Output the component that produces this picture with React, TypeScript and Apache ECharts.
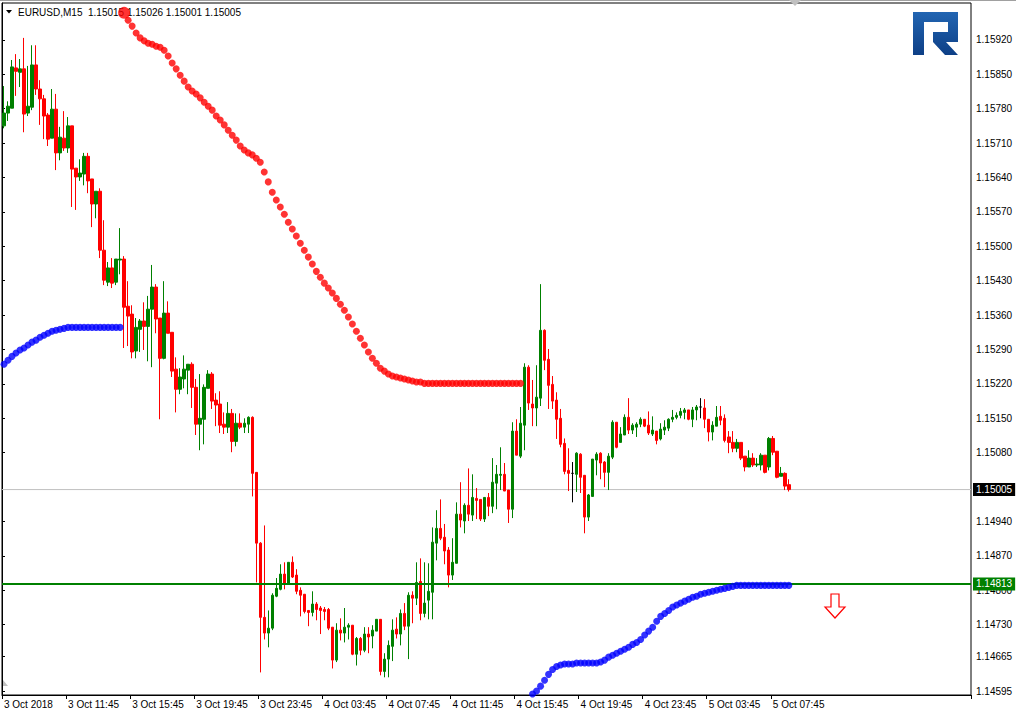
import React, { useEffect, useRef } from "react";
import * as echarts from "echarts";

// ---------- data ----------
const SYMBOL = "EURUSD,M15";
const SLOT_COUNT = 242; // bar slots across the plot (incl. empty chart shift)
const X_TICK_STEP = 16; // bars between time labels (4 hours of M15)
const X_TICK_LABELS = [
  "3 Oct 2018", "3 Oct 11:45", "3 Oct 15:45", "3 Oct 19:45", "3 Oct 23:45",
  "4 Oct 03:45", "4 Oct 07:45", "4 Oct 11:45", "4 Oct 15:45", "4 Oct 19:45",
  "4 Oct 23:45", "5 Oct 03:45", "5 Oct 07:45",
];
const Y_TICKS = [
  1.1592, 1.1585, 1.1578, 1.1571, 1.1564, 1.1557, 1.155, 1.1543, 1.1536, 1.1529,
  1.1522, 1.1515, 1.1508, 1.1494, 1.1487, 1.148, 1.1473, 1.14665, 1.14595,
];
const Y_MIN = 1.14587;
const Y_MAX = 1.15995;
const BID = 1.15005;
const LEVEL = 1.14813;

const OPEN = [
  1.15745, 1.15771, 1.15781, 1.15863, 1.15854, 1.15861, 1.15771, 1.15783, 1.15869, 1.1582,
  1.158, 1.15767, 1.1572, 1.15779, 1.1569, 1.1572, 1.157, 1.15745, 1.15659, 1.15641,
  1.15647, 1.15683, 1.15637, 1.15586, 1.15612, 1.15492, 1.15427, 1.15456, 1.15427, 1.15472,
  1.15474, 1.15378, 1.15362, 1.15287, 1.15331, 1.15348, 1.15337, 1.15372, 1.15417, 1.15354,
  1.15272, 1.15364, 1.15325, 1.1525, 1.15209, 1.1523, 1.15248, 1.1526, 1.15213, 1.15138,
  1.15148, 1.15211, 1.1524, 1.15187, 1.15179, 1.15138, 1.15132, 1.1516, 1.15103, 1.1514,
  1.15132, 1.15138, 1.15152, 1.1504, 1.14896, 1.14745, 1.14713, 1.14723, 1.14788, 1.14802,
  1.14833, 1.14814, 1.14857, 1.14831, 1.148, 1.14792, 1.14759, 1.14755, 1.14772, 1.14764,
  1.14761, 1.14761, 1.14725, 1.14658, 1.14719, 1.14713, 1.14725, 1.14729, 1.1467, 1.14702,
  1.14678, 1.14711, 1.14707, 1.14717, 1.14741, 1.14635, 1.1466, 1.14686, 1.14721, 1.14711,
  1.14753, 1.14727, 1.1479, 1.14784, 1.14818, 1.14753, 1.1478, 1.14796, 1.14896, 1.14926,
  1.14908, 1.14882, 1.14831, 1.14855, 1.14955, 1.14941, 1.14973, 1.14953, 1.14987, 1.14985,
  1.14945, 1.14989, 1.14971, 1.15018, 1.15034, 1.15036, 1.15004, 1.14965, 1.15124, 1.15073,
  1.15136, 1.15254, 1.15179, 1.15171, 1.15191, 1.15329, 1.1527, 1.15219, 1.15187, 1.1515,
  1.15099, 1.15044, 1.15038, 1.15036, 1.15077, 1.15034, 1.14949, 1.14991, 1.15065, 1.15079,
  1.15061, 1.1504, 1.15071, 1.15142, 1.15101, 1.15116, 1.15152, 1.15126, 1.15132, 1.15138,
  1.15148, 1.15136, 1.15118, 1.15124, 1.15108, 1.15126, 1.1513, 1.15148, 1.15152, 1.15156,
  1.15162, 1.15167, 1.15148, 1.15167, 1.15173, 1.15171, 1.15148, 1.15122, 1.15134, 1.15154,
  1.1515, 1.15112, 1.15101, 1.15089, 1.15101, 1.15073, 1.15051, 1.15069, 1.15055, 1.15055,
  1.15075, 1.15051, 1.15109, 1.15083, 1.15032, 1.15038, 1.15015,
];
const HIGH = [
  1.15826, 1.15795, 1.15879, 1.15891, 1.15881, 1.15924, 1.15867, 1.15909, 1.15909, 1.15838,
  1.15808, 1.15771, 1.1582, 1.1581, 1.15743, 1.15775, 1.15763, 1.15745, 1.15659, 1.15677,
  1.1569, 1.1569, 1.15637, 1.15612, 1.15618, 1.15553, 1.15468, 1.15476, 1.15474, 1.15537,
  1.1548, 1.15429, 1.1538, 1.15354, 1.15352, 1.15386, 1.15399, 1.15462, 1.15423, 1.15354,
  1.15429, 1.15388, 1.15325, 1.15274, 1.15252, 1.15278, 1.1526, 1.15264, 1.1523, 1.1524,
  1.15219, 1.15248, 1.15244, 1.15201, 1.15205, 1.15162, 1.15183, 1.15169, 1.1516, 1.1516,
  1.1515, 1.15154, 1.15154, 1.1504, 1.14898, 1.14932, 1.14759, 1.14794, 1.14825, 1.14853,
  1.14857, 1.14857, 1.14869, 1.14843, 1.14806, 1.14792, 1.14759, 1.14798, 1.14776, 1.14768,
  1.14766, 1.14764, 1.14725, 1.14733, 1.14743, 1.14764, 1.14733, 1.14729, 1.14705, 1.14705,
  1.14725, 1.14725, 1.14729, 1.14741, 1.14741, 1.14672, 1.14698, 1.14741, 1.14745, 1.14761,
  1.14774, 1.14796, 1.14798, 1.14857, 1.14865, 1.14857, 1.14855, 1.14928, 1.14963, 1.14985,
  1.14935, 1.14888, 1.14906, 1.14979, 1.1502, 1.14977, 1.15048, 1.15036, 1.15008, 1.14985,
  1.14989, 1.14998, 1.15069, 1.15055, 1.15091, 1.15059, 1.15004, 1.15142, 1.15148, 1.15173,
  1.15262, 1.15258, 1.15228, 1.15258, 1.15423, 1.15331, 1.15291, 1.15236, 1.15203, 1.15169,
  1.15109, 1.15089, 1.15061, 1.15081, 1.15079, 1.15034, 1.14996, 1.15067, 1.15081, 1.15081,
  1.15063, 1.15079, 1.15146, 1.15142, 1.15132, 1.15158, 1.15191, 1.1514, 1.15142, 1.15152,
  1.15148, 1.15164, 1.15154, 1.15124, 1.1514, 1.15146, 1.1515, 1.15167, 1.15162, 1.15171,
  1.15171, 1.15167, 1.15173, 1.15177, 1.15191, 1.15189, 1.15148, 1.15144, 1.15175, 1.15175,
  1.15158, 1.15124, 1.15124, 1.15108, 1.15101, 1.15073, 1.15085, 1.15079, 1.15069, 1.15079,
  1.15075, 1.15112, 1.15114, 1.15083, 1.15051, 1.1504, 1.15026,
];
const LOW = [
  1.1574, 1.15755, 1.15781, 1.15806, 1.15824, 1.15732, 1.15765, 1.15777, 1.15808, 1.15747,
  1.15718, 1.15704, 1.1572, 1.15655, 1.15675, 1.15694, 1.1569, 1.1558, 1.15574, 1.15633,
  1.15624, 1.15608, 1.15539, 1.15557, 1.15476, 1.15421, 1.15419, 1.15415, 1.15421, 1.15443,
  1.15293, 1.15297, 1.15272, 1.15272, 1.15285, 1.15289, 1.15266, 1.15254, 1.15323, 1.15148,
  1.1527, 1.15323, 1.15234, 1.15162, 1.15199, 1.15211, 1.15199, 1.15171, 1.15116, 1.15085,
  1.15097, 1.15211, 1.15169, 1.15134, 1.1512, 1.15118, 1.1512, 1.15081, 1.15093, 1.15128,
  1.1512, 1.1512, 1.14991, 1.14816, 1.14633, 1.147, 1.14684, 1.14719, 1.14786, 1.148,
  1.14802, 1.14814, 1.14825, 1.14792, 1.14747, 1.14753, 1.14727, 1.14747, 1.14739, 1.14711,
  1.14739, 1.14719, 1.14641, 1.14654, 1.14698, 1.14694, 1.147, 1.14668, 1.14647, 1.14668,
  1.14674, 1.14672, 1.14682, 1.14717, 1.14627, 1.14623, 1.14623, 1.14656, 1.14702, 1.14688,
  1.14719, 1.1466, 1.14733, 1.1477, 1.14739, 1.14745, 1.14741, 1.14741, 1.14861, 1.14902,
  1.14853, 1.14806, 1.14821, 1.14855, 1.14928, 1.14916, 1.14941, 1.14941, 1.14945, 1.14941,
  1.14939, 1.14951, 1.14957, 1.14965, 1.15004, 1.15002, 1.14937, 1.14947, 1.15075, 1.15069,
  1.15085, 1.15167, 1.15134, 1.15134, 1.15175, 1.15248, 1.15169, 1.15169, 1.15108, 1.15091,
  1.15036, 1.15002, 1.14979, 1.15, 1.14998, 1.14916, 1.14941, 1.14991, 1.15034, 1.15026,
  1.1501, 1.15004, 1.15067, 1.15089, 1.15101, 1.15116, 1.15118, 1.15118, 1.15112, 1.15132,
  1.15132, 1.15116, 1.15114, 1.15097, 1.15105, 1.15116, 1.15124, 1.15142, 1.15148, 1.1515,
  1.15148, 1.15146, 1.15132, 1.15146, 1.1515, 1.1513, 1.15103, 1.15105, 1.15134, 1.15136,
  1.15101, 1.15079, 1.15081, 1.15081, 1.15065, 1.15042, 1.15051, 1.15051, 1.15051, 1.15044,
  1.15038, 1.15044, 1.15075, 1.15028, 1.15032, 1.15004, 1.15001,
];
const CLOSE = [
  1.15771, 1.15785, 1.15865, 1.15856, 1.15861, 1.15769, 1.15785, 1.15869, 1.1582, 1.158,
  1.15765, 1.15718, 1.15779, 1.1569, 1.15722, 1.157, 1.15745, 1.15657, 1.15641, 1.15649,
  1.15683, 1.15633, 1.15586, 1.15612, 1.15492, 1.15431, 1.15456, 1.15425, 1.15474, 1.15474,
  1.15376, 1.15358, 1.15285, 1.15335, 1.15348, 1.15337, 1.15372, 1.15417, 1.15352, 1.15272,
  1.15364, 1.15323, 1.15246, 1.15209, 1.15234, 1.1525, 1.1526, 1.15213, 1.15138, 1.1515,
  1.15213, 1.1524, 1.15185, 1.15177, 1.15136, 1.15132, 1.1516, 1.15103, 1.1514, 1.15132,
  1.1514, 1.15152, 1.15038, 1.14896, 1.14745, 1.14713, 1.14723, 1.1479, 1.14804, 1.14833,
  1.14814, 1.14857, 1.14827, 1.14798, 1.1479, 1.14757, 1.14755, 1.14772, 1.14761, 1.14759,
  1.14757, 1.14723, 1.14658, 1.14719, 1.14713, 1.14725, 1.14729, 1.1467, 1.14702, 1.14678,
  1.14711, 1.14705, 1.14719, 1.14741, 1.14635, 1.1466, 1.14688, 1.14719, 1.14711, 1.14753,
  1.14727, 1.1479, 1.14784, 1.14816, 1.14753, 1.14774, 1.14798, 1.14898, 1.14926, 1.14906,
  1.1488, 1.14831, 1.14857, 1.14955, 1.14943, 1.14973, 1.14955, 1.14989, 1.14983, 1.14945,
  1.14989, 1.14971, 1.1502, 1.15036, 1.15036, 1.15002, 1.14965, 1.15124, 1.15075, 1.1514,
  1.15254, 1.15181, 1.15171, 1.15193, 1.15329, 1.15268, 1.15217, 1.15185, 1.15148, 1.15097,
  1.15042, 1.15038, 1.15038, 1.15079, 1.1503, 1.14949, 1.14994, 1.15067, 1.15077, 1.15059,
  1.1504, 1.15073, 1.15142, 1.15091, 1.15118, 1.15152, 1.15126, 1.15136, 1.15138, 1.15148,
  1.15134, 1.1512, 1.15126, 1.15105, 1.15128, 1.15132, 1.15148, 1.15152, 1.15156, 1.15164,
  1.15167, 1.15148, 1.15167, 1.15173, 1.15173, 1.15148, 1.15122, 1.15136, 1.15152, 1.15146,
  1.15105, 1.15101, 1.15089, 1.15101, 1.15069, 1.15051, 1.15069, 1.15055, 1.15057, 1.15075,
  1.1504, 1.15109, 1.15081, 1.1503, 1.15038, 1.15012, 1.15005,
];

// trailing-stop dots (upper / red, lower / blue)
const RED_START = 30;
const RED_TRAIL = [
  1.15975, 1.1596, 1.15948, 1.15934, 1.15924, 1.15918, 1.15913, 1.15911, 1.15907, 1.15905,
  1.15899, 1.15887, 1.15873, 1.15861, 1.15848, 1.15836, 1.15824, 1.15816, 1.1581, 1.15802,
  1.15793, 1.15785, 1.15777, 1.15765, 1.15757, 1.15747, 1.15736, 1.15726, 1.15716, 1.15704,
  1.15696, 1.1569, 1.15686, 1.15679, 1.15671, 1.15651, 1.15631, 1.1561, 1.15594, 1.1558,
  1.15565, 1.15549, 1.15535, 1.15521, 1.15506, 1.15492, 1.15478, 1.15464, 1.15449, 1.15437,
  1.15425, 1.15415, 1.15405, 1.15394, 1.15382, 1.1537, 1.15356, 1.15342, 1.15327, 1.15313,
  1.15299, 1.15285, 1.15272, 1.15262, 1.15252, 1.15246, 1.1524, 1.15236, 1.15234, 1.15232,
  1.1523, 1.15228, 1.15226, 1.15224, 1.15224, 1.15221, 1.15221, 1.15221, 1.15221, 1.15221,
  1.15221, 1.15221, 1.15221, 1.15221, 1.15221, 1.15221, 1.15221, 1.15221, 1.15221, 1.15221,
  1.15221, 1.15221, 1.15221, 1.15221, 1.15221, 1.15221, 1.15221, 1.15221, 1.15221, 1.15221,
];
const BLUE_LEFT_START = 0;
const BLUE_LEFT = [
  1.1526, 1.15268, 1.15276, 1.15283, 1.15289, 1.15293, 1.15299, 1.15305, 1.15309, 1.15315,
  1.15319, 1.15323, 1.15327, 1.15329, 1.15331, 1.15333, 1.15335, 1.15335, 1.15335, 1.15335,
  1.15335, 1.15335, 1.15335, 1.15335, 1.15335, 1.15335, 1.15335, 1.15335, 1.15335, 1.15335,
];
const BLUE_RIGHT_START = 132;
const BLUE_RIGHT = [
  1.14589, 1.14595, 1.14605, 1.14617, 1.14629, 1.14639, 1.14645, 1.14648,
  1.1465, 1.1465, 1.1465, 1.14652, 1.14652, 1.14652, 1.14652, 1.14652, 1.14652, 1.14654,
  1.14658, 1.14664, 1.14668, 1.14672, 1.14676, 1.1468, 1.14684, 1.1469, 1.14694, 1.147,
  1.14709, 1.14717, 1.14725, 1.14737, 1.14747, 1.14753, 1.14759, 1.14766, 1.1477, 1.14774,
  1.14778, 1.14782, 1.14786, 1.14788, 1.14792, 1.14794, 1.14796, 1.14798, 1.148, 1.14802,
  1.14804, 1.14806, 1.14808, 1.1481, 1.1481, 1.1481, 1.1481, 1.1481, 1.1481, 1.1481,
  1.1481, 1.1481, 1.1481, 1.1481, 1.1481, 1.1481, 1.1481,
];

// ---------- styling ----------
const FONT = "Liberation Sans";
const UP = "#008000";
const DOWN = "#ff0000";
const LOGO_PATH =
  "M0 0H45V30H20V20H35V10H11V43H0Z M20 30H33L45 43H32Z";

let logoRegistered = false;
function registerLogo() {
  if (logoRegistered) return;
  echarts.graphic.registerShape("logo", echarts.graphic.extendPath(LOGO_PATH, {}));
  logoRegistered = true;
}

function buildOption() {
  const categories: string[] = [];
  for (let i = 0; i < SLOT_COUNT; i++) categories.push(String(i));

  const candles = OPEN.map((o, i) => [o, CLOSE[i], LOW[i], HIGH[i]]);
  const last = OPEN.length - 1;
  const header = `${SYMBOL}  ${OPEN[last].toFixed(5)} ${HIGH[last].toFixed(5)} ${LOW[last].toFixed(5)} ${CLOSE[last].toFixed(5)}`;

  const showTick = (i: number) =>
    i % X_TICK_STEP === 0 && i / X_TICK_STEP < X_TICK_LABELS.length;

  const redData = RED_TRAIL.map((v, k) =>
    k === 0 ? { value: [RED_START + k, v], symbolSize: 12 } : [RED_START + k, v]
  );
  const blueLeft = BLUE_LEFT.map((v, k) => [BLUE_LEFT_START + k, v]);
  const blueRight = BLUE_RIGHT.map((v, k) => [BLUE_RIGHT_START + k, v]);

  const hLine = (value: number, color: string, width: number, boxColor: string, z: number) => ({
    type: "line",
    xAxisIndex: 1,
    data: [[0, value], [1, value]],
    symbol: "none",
    silent: true,
    z,
    lineStyle: { color, width, type: "solid" },
    endLabel: {
      show: true,
      distance: 2,
      formatter: () => value.toFixed(5),
      color: "#ffffff",
      backgroundColor: boxColor,
      padding: [2, 3, 1, 3],
      fontFamily: FONT,
      fontSize: 10,
    },
  });

  return {
    animation: false,
    backgroundColor: "#ffffff",
    grid: {
      left: 2,
      right: 45,
      top: 3,
      bottom: 20,
      show: true,
      borderColor: "#000000",
      borderWidth: 1,
      backgroundColor: "#ffffff",
    },
    xAxis: [
      {
        type: "category",
        data: categories,
        boundaryGap: true,
        axisLine: { show: true, lineStyle: { color: "#000000", width: 1 } },
        axisTick: {
          show: true,
          interval: (i: number) => showTick(i),
          length: 4,
          lineStyle: { color: "#000000" },
        },
        axisLabel: {
          show: true,
          interval: (i: number) => showTick(i),
          formatter: (_v: string, i: number) => X_TICK_LABELS[i / X_TICK_STEP] ?? "",
          align: "left",
          margin: 4,
          color: "#000000",
          fontFamily: FONT,
          fontSize: 10,
        },
        splitLine: { show: false },
      },
      {
        type: "value",
        min: 0,
        max: 1,
        show: false,
      },
    ],
    yAxis: {
      type: "value",
      position: "right",
      min: Y_MIN,
      max: Y_MAX,
      axisLine: { show: true, lineStyle: { color: "#000000", width: 1 } },
      axisTick: {
        show: true,
        length: 3,
        customValues: Y_TICKS,
        lineStyle: { color: "#000000" },
      },
      axisLabel: {
        show: true,
        customValues: Y_TICKS,
        formatter: (v: number) => v.toFixed(5),
        margin: 5,
        color: "#000000",
        fontFamily: FONT,
        fontSize: 10,
      },
      splitLine: { show: false },
    },
    series: [
      hLine(BID, "#c0c0c0", 1, "#000000", 2),
      {
        type: "candlestick",
        data: candles,
        barWidth: 3,
        z: 3,
        itemStyle: {
          color: UP,
          color0: DOWN,
          borderColor: UP,
          borderColor0: DOWN,
          borderColorDoji: "#000000",
          borderWidth: 1,
        },
      },
      hLine(LEVEL, UP, 2, UP, 4),
      {
        type: "scatter",
        data: redData,
        symbol: "circle",
        symbolSize: 7,
        itemStyle: { color: "#ff0000" },
        z: 5,
      },
      {
        type: "scatter",
        data: blueLeft,
        symbol: "circle",
        symbolSize: 7,
        itemStyle: { color: "#0000ff" },
        z: 5,
      },
      {
        type: "scatter",
        data: blueRight,
        symbol: "circle",
        symbolSize: 7,
        itemStyle: { color: "#0000ff" },
        z: 5,
      },
    ],
    graphic: [
      { type: "rect", shape: { x: 0, y: 0, width: 1016, height: 1 }, style: { fill: "#a0a0a0" }, z: 10 },
      { type: "polygon", shape: { points: [[789, 0], [801, 0], [795, 6]] }, style: { fill: "#c0c0c0" }, z: 10 },
      { type: "polygon", shape: { points: [[3, 680], [3, 686], [8, 686]] }, style: { fill: "#c0c0c0" }, z: 10 },
      { type: "polygon", shape: { points: [[6, 10], [12, 10], [9, 13.5]] }, style: { fill: "#000000" }, z: 1 },
      {
        type: "text",
        x: 18,
        y: 12,
        z: 1,
        style: {
          text: header,
          fill: "#000000",
          font: `10px "${FONT}"`,
          verticalAlign: "middle",
        },
      },
      {
        type: "logo",
        x: 913,
        y: 12,
        z: 5,
        style: {
          fill: {
            type: "linear",
            x: 0,
            y: 0,
            x2: 0,
            y2: 1,
            colorStops: [
              { offset: 0, color: "#2265b2" },
              { offset: 1, color: "#0d3f86" },
            ],
          },
        },
      },
      {
        type: "polygon",
        z: 5,
        shape: {
          points: [
            [831, 594], [839, 594], [839, 607], [845, 607], [835, 618], [825, 607], [831, 607],
          ],
        },
        style: { fill: "#ffffff", stroke: "#ff0000", lineWidth: 1.2 },
      },
    ],
  };
}

export default function App() {
  const ref = useRef<HTMLDivElement>(null);
  useEffect(() => {
    if (!ref.current) return;
    registerLogo();
    const chart = echarts.init(ref.current, undefined, { renderer: "svg" });
    chart.setOption(buildOption() as any);
    return () => chart.dispose();
  }, []);
  return (
    <div
      ref={ref}
      style={{ position: "fixed", left: 0, top: 0, width: 1016, height: 715, background: "#ffffff" }}
    />
  );
}
